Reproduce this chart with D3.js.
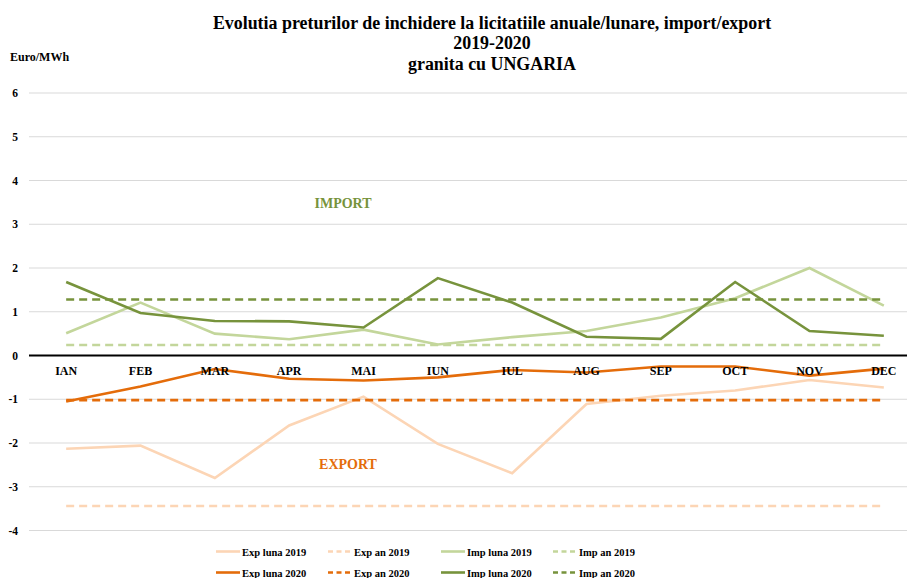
<html>
<head>
<script src="https://d3js.org/d3.v7.min.js"></script>
<style>
  body { margin: 0; padding: 0; background: #fff; }
  svg text { font-family: "Liberation Serif", "Times New Roman", serif; font-weight: bold; }
</style>
</head>
<body>
<script>
var months = ["IAN","FEB","MAR","APR","MAI","IUN","IUL","AUG","SEP","OCT","NOV","DEC"];
var yTicks = [6,5,4,3,2,1,0,-1,-2,-3,-4];

var expLuna2019 = [-2.13,-2.06,-2.80,-1.60,-0.94,-2.02,-2.69,-1.11,-0.92,-0.80,-0.56,-0.73];
var expLuna2020 = [-1.05,-0.71,-0.31,-0.53,-0.57,-0.50,-0.33,-0.39,-0.25,-0.25,-0.46,-0.30];
var impLuna2019 = [0.51,1.21,0.50,0.37,0.59,0.25,0.42,0.56,0.87,1.31,2.00,1.14];
var impLuna2020 = [1.68,0.97,0.79,0.78,0.64,1.77,1.21,0.43,0.38,1.68,0.56,0.45];
var expAn2019 = -3.44;
var expAn2020 = -1.02;
var impAn2019 = 0.24;
var impAn2020 = 1.28;

var series = [
  {name: "Exp luna 2019", color: "#fcd5b5", dash: null, values: expLuna2019},
  {name: "Exp an 2019",   color: "#fcd5b5", dash: "8,5", values: months.map(function(){ return expAn2019; })},
  {name: "Imp luna 2019", color: "#c3d69b", dash: null, values: impLuna2019},
  {name: "Imp an 2019",   color: "#c3d69b", dash: "8,5", values: months.map(function(){ return impAn2019; })},
  {name: "Exp luna 2020", color: "#e46c0a", dash: null, values: expLuna2020},
  {name: "Exp an 2020",   color: "#e46c0a", dash: "8,5", values: months.map(function(){ return expAn2020; })},
  {name: "Imp luna 2020", color: "#77933c", dash: null, values: impLuna2020},
  {name: "Imp an 2020",   color: "#77933c", dash: "8,5", values: months.map(function(){ return impAn2020; })}
];

var width = 907, height = 578;
var left = 29, right = 921, gridRight = 907;

var svg = d3.select("body").append("svg")
  .attr("width", width).attr("height", height);

var x = d3.scaleBand().domain(months).range([left, right]);
var y = d3.scaleLinear().domain([-4, 6]).range([530.5, 93]);

// gridlines
svg.append("g").selectAll("line")
  .data(yTicks.filter(function(d){ return d !== 0; }))
  .enter().append("line")
  .attr("x1", left).attr("x2", gridRight)
  .attr("y1", function(d){ return y(d); }).attr("y2", function(d){ return y(d); })
  .attr("stroke", "#d9d9d9").attr("stroke-width", 1);

// y tick labels
svg.append("g").selectAll("text")
  .data(yTicks)
  .enter().append("text")
  .attr("x", 18).attr("y", function(d){ return y(d) + 4; })
  .attr("text-anchor", "end")
  .attr("font-size", 11.5)
  .text(function(d){ return d; });

// 2019 first, then 2020 on top
var line = d3.line()
  .x(function(d, i){ return x(months[i]) + x.bandwidth() / 2; })
  .y(function(d){ return y(d); });

var drawOrder = [1,3,0,2,5,7,4,6];
svg.append("g").selectAll("path")
  .data(drawOrder.map(function(i){ return series[i]; }))
  .enter().append("path")
  .attr("d", function(d){ return line(d.values); })
  .attr("fill", "none")
  .attr("stroke", function(d){ return d.color; })
  .attr("stroke-width", 2.6)
  .attr("stroke-dasharray", function(d){ return d.dash; });

// zero axis
svg.append("line")
  .attr("x1", left).attr("x2", gridRight)
  .attr("y1", y(0)).attr("y2", y(0))
  .attr("stroke", "#000").attr("stroke-width", 1.8);

// month labels
svg.append("g").selectAll("text")
  .data(months)
  .enter().append("text")
  .attr("x", function(d){ return x(d) + x.bandwidth() / 2; })
  .attr("y", y(0) + 19)
  .attr("text-anchor", "middle")
  .attr("font-size", 12)
  .text(function(d){ return d; });

// title
var titleLines = ["Evolutia preturilor de inchidere la licitatiile anuale/lunare, import/export", "2019-2020", "granita cu UNGARIA"];
svg.append("g").selectAll("text")
  .data(titleLines)
  .enter().append("text")
  .attr("x", 492)
  .attr("y", function(d, i){ return 28.5 + i * 20.5; })
  .attr("text-anchor", "middle")
  .attr("font-size", 17.9)
  .text(function(d){ return d; });

svg.append("text")
  .attr("x", 10).attr("y", 61)
  .attr("font-size", 12)
  .text("Euro/MWh");

// annotations
svg.append("text")
  .attr("x", 343).attr("y", 208)
  .attr("text-anchor", "middle")
  .attr("font-size", 14)
  .attr("fill", "#77933c")
  .text("IMPORT");

svg.append("text")
  .attr("x", 348).attr("y", 469)
  .attr("text-anchor", "middle")
  .attr("font-size", 14)
  .attr("fill", "#e46c0a")
  .text("EXPORT");

// legend
var legendX = [216, 328, 441, 553];
var legendY = [551.5, 572.5];
var legendItems = svg.append("g").selectAll("g")
  .data(series)
  .enter().append("g")
  .attr("transform", function(d, i){
    var col = i % 4, row = Math.floor(i / 4);
    return "translate(" + legendX[col] + "," + legendY[row] + ")";
  });
legendItems.append("line")
  .attr("x1", 0).attr("x2", 24)
  .attr("y1", 0).attr("y2", 0)
  .attr("stroke", function(d){ return d.color; })
  .attr("stroke-width", 2.6)
  .attr("stroke-dasharray", function(d){ return d.dash ? "5,3.5" : null; });
legendItems.append("text")
  .attr("x", 26).attr("y", 4)
  .attr("font-size", 10.5)
  .text(function(d){ return d.name; });
</script>
</body>
</html>
